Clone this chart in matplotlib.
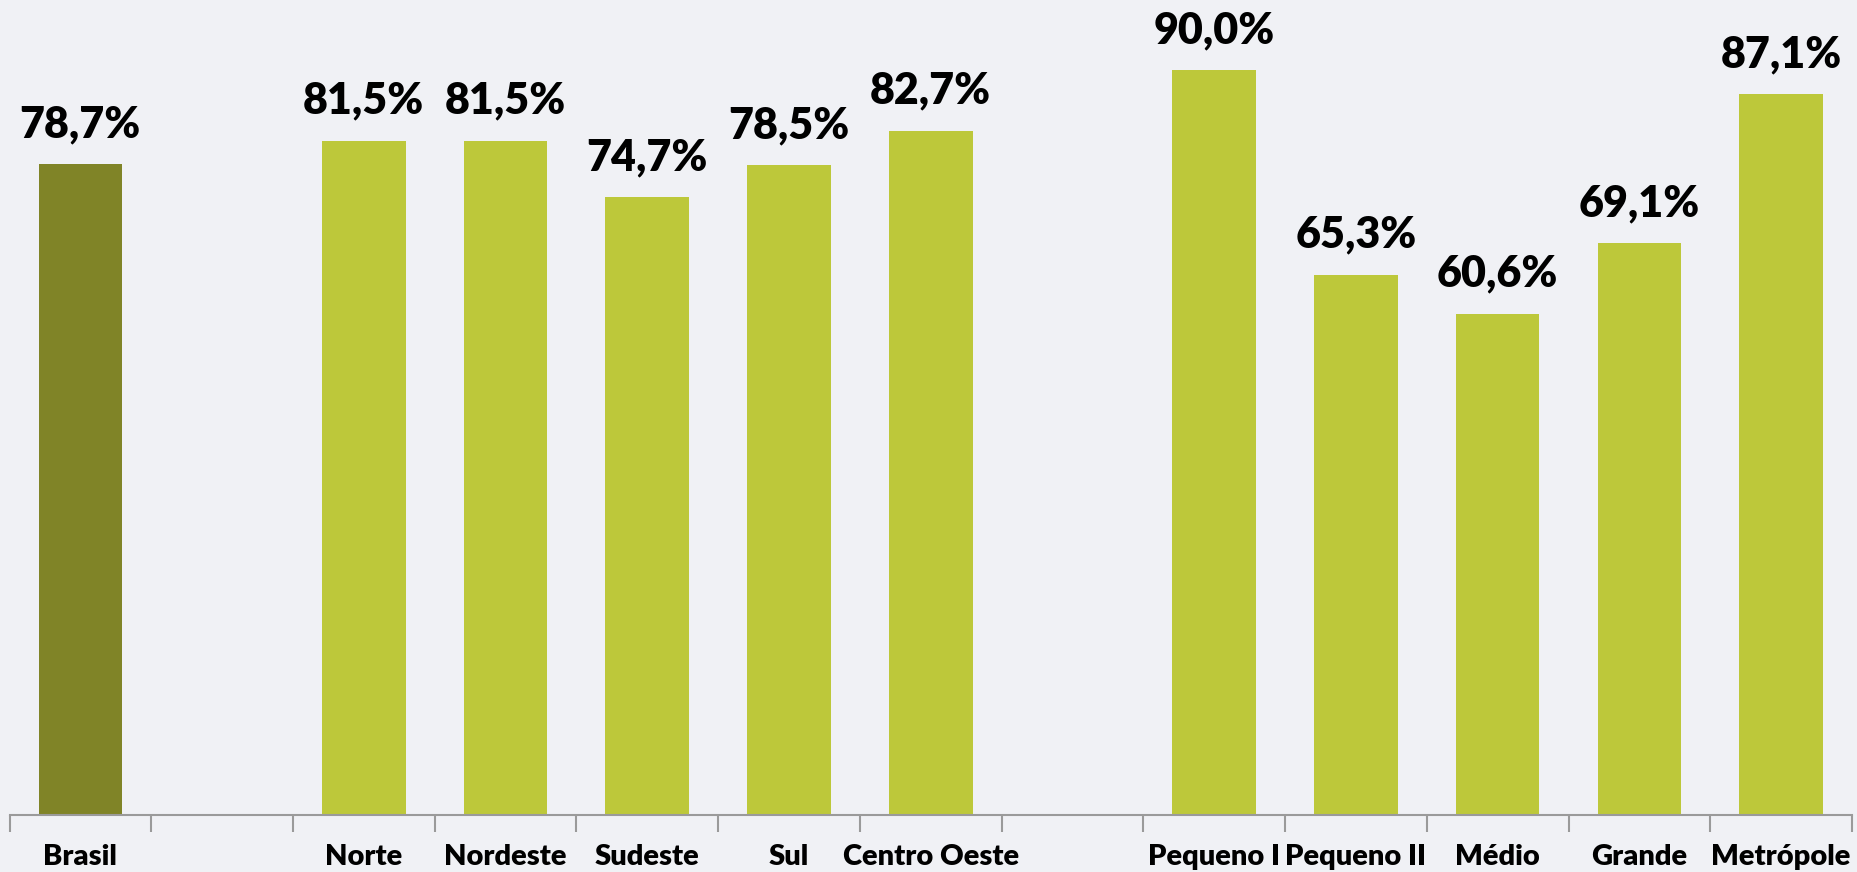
import matplotlib.pyplot as plt
import numpy as np

# categories (empty strings are the spacer slots)
categories = ['Brasil', '', 'Norte', 'Nordeste', 'Sudeste', 'Sul', 'Centro Oeste',
              '', 'Pequeno I', 'Pequeno II', 'Médio', 'Grande', 'Metrópole']
values = [78.7, None, 81.5, 81.5, 74.7, 78.5, 82.7,
          None, 90.0, 65.3, 60.6, 69.1, 87.1]

bg = '#f0f1f5'
olive = '#808427'
lime = '#bdc83a'

plt.rcParams['font.family'] = ['Lato', 'DejaVu Sans']

fig = plt.figure(figsize=(18.58, 8.72), dpi=100)
fig.patch.set_facecolor(bg)
ax = fig.add_axes([9.5 / 1858, 1 - 815 / 872, (1852 - 9.5) / 1858, 815 / 872])
ax.set_facecolor('none')

xs = np.arange(len(categories))
for i in range(len(categories)):
    v = values[i]
    if v is None:
        continue
    color = olive if i == 0 else lime
    ax.bar(xs[i], v, width=0.59, color=color, zorder=2)
    ax.text(xs[i], v + 2.4, ('%.1f%%' % v).replace('.', ','), ha='center', va='bottom',
            fontsize=31, fontweight='heavy', color='black')

ax.set_xlim(-0.5, len(categories) - 0.5)
ax.set_ylim(0, 98.5)
ax.set_yticks([])
for s in ['top', 'right', 'left']:
    ax.spines[s].set_visible(False)
ax.spines['bottom'].set_color('#9a9a9a')
ax.spines['bottom'].set_linewidth(1.5)

# tick marks on slot edges, labels at slot centers
ax.set_xticks(np.arange(-0.5, len(categories)), minor=True)
ax.tick_params(axis='x', which='minor', length=12, width=1.5, color='#9a9a9a')
ax.set_xticks(xs)
ax.set_xticklabels(categories, fontsize=21, fontweight='heavy')
ax.tick_params(axis='x', which='major', length=0, pad=21)

plt.savefig('out.png', dpi=100, facecolor=bg)
